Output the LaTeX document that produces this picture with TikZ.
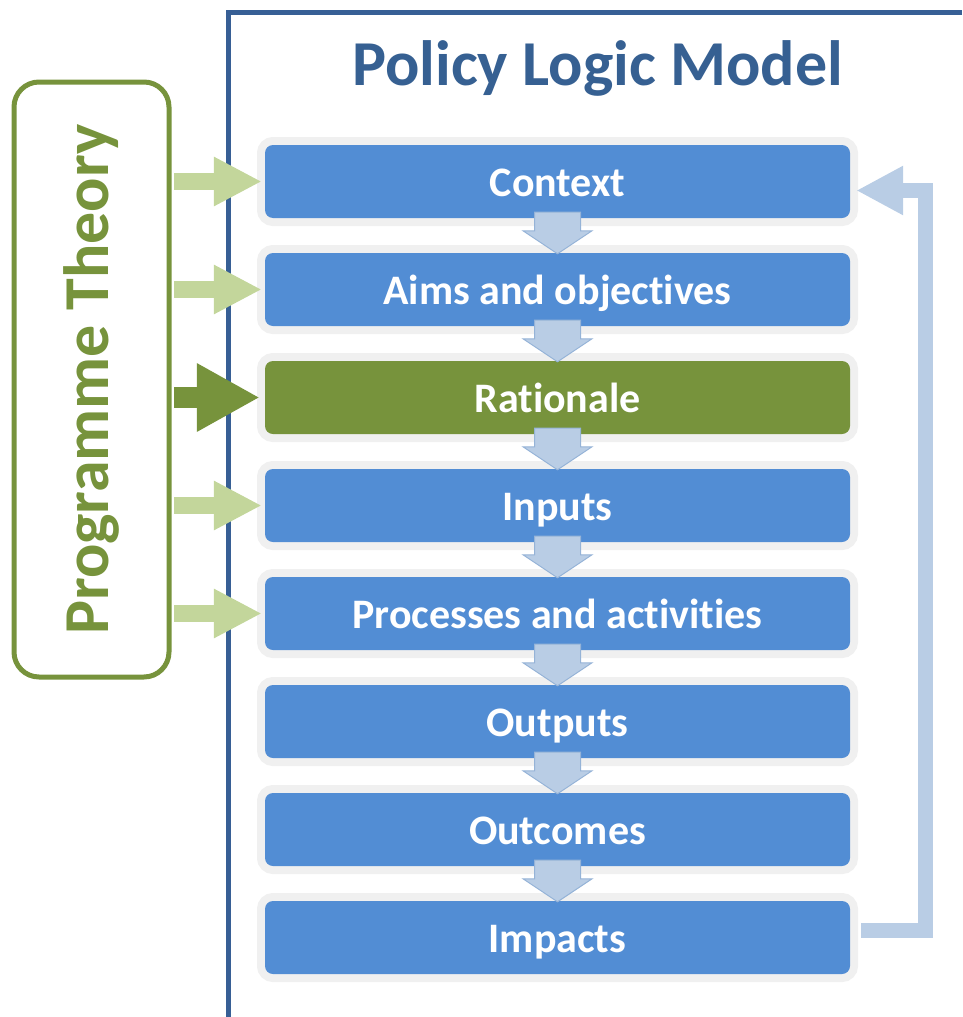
\documentclass[tikz,border=0pt]{standalone}
\usepackage{fontspec}
\setmainfont{Carlito}[Ligatures={NoCommon,NoContextual},Contextuals=NoAlternate]
\usetikzlibrary{positioning,calc,arrows.meta}
\definecolor{frameblue}{HTML}{375F95}
\definecolor{titleblue}{HTML}{366092}
\definecolor{stageblue}{HTML}{528DD4}
\definecolor{stagerim}{HTML}{F0F0F0}
\definecolor{theorygreen}{HTML}{77933C}
\definecolor{lightgreen}{HTML}{C3D69B}
\definecolor{loopblue}{HTML}{B9CDE5}
\definecolor{loopedge}{HTML}{95B3D7}

\begin{document}
\begin{tikzpicture}[x=1pt,y=-1pt,node distance=34.6pt]
	\tikzset{stage/.style={fill=stageblue,rounded corners=8pt,minimum width=585pt,minimum height=73pt,inner sep=0pt,
			text height=30pt,text depth=0pt,
			text=white,font=\fontsize{42}{48}\selectfont\bfseries,preaction={draw=stagerim,line width=16pt}},
		theorybox/.style={draw=theorygreen,line width=5pt,rounded corners=25pt,minimum width=595pt,minimum height=155pt,
			text=theorygreen,font=\fontsize{64}{70}\selectfont\bfseries},
		stepdown/.style={fill=loopblue,draw=loopedge,line width=1pt},
		theoryarrow/.style={draw=lightgreen,line width=17pt,shorten <=2.5pt,-{Triangle[width=46pt,length=48pt]}},
		theorykey/.style={draw=theorygreen,line width=21pt,shorten <=2.5pt,-{Triangle[width=64pt,length=63pt]}},
		loopback/.style={draw=loopblue,line width=15pt,line join=miter,-{Triangle[width=46pt,length=47pt]}}}
	
	\useasboundingbox (0,0) rectangle (962,1017);
	
	% Outer frame of the logic model
	\draw[frameblue,line width=5pt,line join=miter] (962,12) -- (228,12) -- (228,1017);
	\node[anchor=base,text=titleblue,font=\fontsize{64}{70}\selectfont\bfseries] (title) at (597.5,85) {Policy Logic Model};
	
	% Programme theory box
	\node[theorybox,rotate=90] (prog) at (91.5,379.5) {Programme Theory};
	
	% Stages of the model
	\node[stage] (ctx) at (557.5,181.5) {Context};
	\node[stage,below=of ctx] (aims) {Aims and objec{}tives};
	\node[stage,below=of aims,fill=theorygreen] (rat) {Rationale};
	\node[stage,below=of rat] (inp) {Inputs};
	\node[stage,below=of inp] (proc) {Processes and ac{}ti{}vi{}ti{}es};
	\node[stage,below=of proc] (outp) {Outputs};
	\node[stage,below=of outp] (outc) {Outcomes};
	\node[stage,below=of outc] (imp) {Impacts};
	
	% Block arrows between stages
	\foreach \a/\b in {ctx/aims,aims/rat,rat/inp,inp/proc,proc/outp,outp/outc,outc/imp}
	{
		\filldraw[stepdown] ($(\a.south)+(-23,-6)$) -- ($(\b.north)+(-23,-22)$) -- ($(\b.north)+(-34.5,-22)$)
			-- ($(\b.north)+(0,1)$) -- ($(\b.north)+(34.5,-22)$) -- ($(\b.north)+(23,-22)$) -- ($(\a.south)+(23,-6)$) -- cycle;
	}
	
	% Arrows from the programme theory
	\foreach \s in {ctx,aims,inp,proc}
	{
		\draw[theoryarrow] (prog.south |- \s.west) -- ([xshift=-3pt]\s.west);
	}
	\draw[theorykey] (prog.south |- rat.west) -- ([xshift=-5pt]rat.west);
	
	% Feedback from impacts to context
	\coordinate (fbtop) at ([xshift=75.7pt,yshift=-9pt]ctx.east);
	\draw[loopback] ([xshift=11pt,yshift=7pt]imp.east) -| (fbtop) -- ([xshift=6pt,yshift=-9pt]ctx.east);
	
\end{tikzpicture}
\end{document}
